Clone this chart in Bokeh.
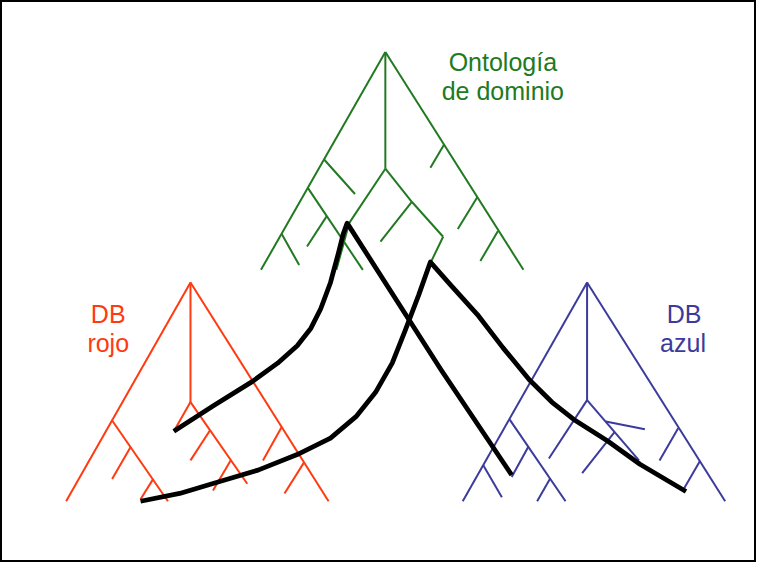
from bokeh.plotting import figure
from bokeh.models import Range1d
from bokeh.embed import file_html
from bokeh.resources import INLINE
from bokeh.core.properties import value

# ---- data (pixel coordinates; y grows downward) ----
green_x0 = [393, 393, 393, 393, 356, 393, 420, 452, 420, 330, 314, 333, 287, 453, 487, 508]
green_y0 = [53, 53, 53, 173, 229, 173, 207, 243, 207, 163, 193, 222, 240, 148, 202, 237]
green_x1 = [266, 534, 393, 356, 343, 420, 452, 440, 388, 362, 370, 313, 305, 439, 467, 490]
green_y1 = [277, 277, 173, 229, 277, 207, 243, 268, 248, 199, 277, 253, 272, 172, 235, 268]

red_x0 = [194, 194, 194, 194, 194, 214, 235, 114, 133, 156, 287, 310]
red_y0 = [290, 290, 290, 413, 413, 442, 473, 432, 459, 492, 439, 475]
red_x1 = [67, 335, 194, 177, 252, 194, 217, 171, 114, 143, 268, 290]
red_y1 = [515, 515, 413, 443, 497, 473, 504, 515, 492, 513, 473, 507]

blue_x0 = [599, 599, 599, 599, 599, 618, 627, 520, 539, 561, 493, 692, 714]
blue_y0 = [290, 290, 290, 411, 411, 433, 444, 431, 459, 492, 478, 440, 474]
blue_x1 = [472, 740, 599, 560, 652, 658, 594, 577, 522, 548, 512, 673, 698]
blue_y1 = [515, 515, 411, 471, 473, 441, 486, 515, 490, 515, 511, 473, 502]

link1_x = [177, 217, 257, 283, 303, 317, 327, 337, 345, 350, 354, 450, 522]
link1_y = [443, 417, 392, 373, 355, 337, 317, 290, 260, 240, 229, 380, 488]

link2_x = [143, 183, 223, 263, 303, 337, 363, 383, 400, 413, 427, 439,
           460, 487, 513, 540, 563, 587, 620, 653, 700]
link2_y = [515, 507, 495, 483, 467, 450, 428, 403, 373, 340, 303, 269,
           293, 323, 357, 390, 413, 432, 453, 477, 505]

label_text = ["Ontología", "de dominio", "DB", "rojo", "DB", "azul"]
label_x = [513, 513, 110, 110, 698, 697]
label_y = [63, 93, 322, 352, 322, 352]
label_color = ["#217A21", "#217A21", "#FF3A10", "#FF3A10", "#3B3B9B", "#3B3B9B"]

# ---- figure ----
p = figure(width=756, height=562, output_backend="svg", toolbar_location=None,
           x_range=Range1d(0, 772), y_range=Range1d(578, 0), min_border=0)
p.axis.visible = False
p.grid.visible = False
p.outline_line_color = "black"
p.outline_line_width = 3
p.background_fill_color = "white"
p.border_fill_color = "white"

p.segment(green_x0, green_y0, green_x1, green_y1, line_color="#217A21", line_width=2)
p.segment(red_x0, red_y0, red_x1, red_y1, line_color="#FF3A10", line_width=2)
p.segment(blue_x0, blue_y0, blue_x1, blue_y1, line_color="#3B3B9B", line_width=2)

p.line(link1_x, link1_y, line_color="black", line_width=4.8, line_join="round")
p.line(link2_x, link2_y, line_color="black", line_width=4.8, line_join="round")

p.text(x=label_x, y=label_y, text=label_text, text_color=label_color,
       text_font=value("Liberation Sans"), text_font_size="25px",
       text_align="center", text_baseline="alphabetic")

open("out.html", "w").write(file_html(p, INLINE))
